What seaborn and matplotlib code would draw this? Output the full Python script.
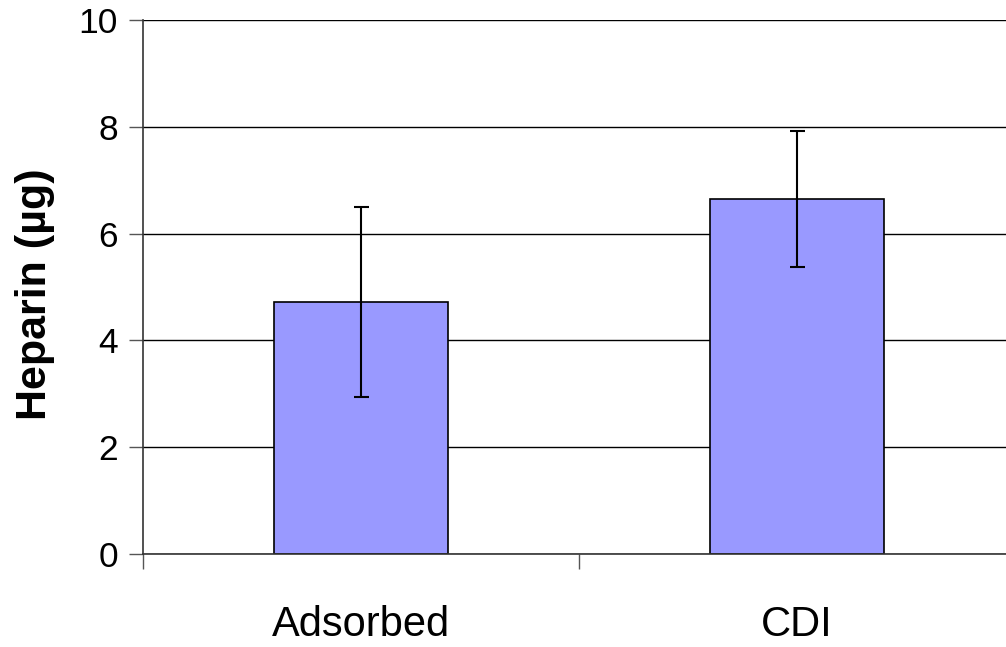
import matplotlib
matplotlib.use("Agg")
import matplotlib.pyplot as plt
import seaborn as sns
import pandas as pd

categories = ["Adsorbed", "CDI"]
heparin = [4.72, 6.65]
heparin_err = [1.78, 1.28]
y_ticks = [0, 2, 4, 6, 8, 10]

df = pd.DataFrame({"method": categories, "heparin": heparin})

sns.set_style("white")
plt.rcParams["font.family"] = ["Liberation Sans", "DejaVu Sans"]
plt.rcParams["text.color"] = "black"
plt.rcParams["xtick.color"] = "black"
plt.rcParams["ytick.color"] = "black"

fig = plt.figure(figsize=(10.06, 6.47), dpi=100)
# plot area runs past the right edge like in the original
ax = fig.add_axes([143 / 1006, 1 - 554 / 647, (1015 - 143) / 1006, (554 - 20) / 647])

sns.barplot(data=df, x="method", y="heparin", color="#9999FF", width=0.4,
            edgecolor="black", linewidth=1.2, errorbar=None, saturation=1,
            ax=ax, zorder=2)
ax.errorbar(range(len(categories)), heparin, yerr=heparin_err, fmt="none",
            ecolor="black", elinewidth=1.5, capsize=5.4, capthick=1.5, zorder=3)

ax.set_xlim(-0.5, 1.5)
ax.set_ylim(0, 10)
ax.set_yticks(y_ticks)
ax.set_yticklabels([str(t) for t in y_ticks], fontsize=25.5)
ax.yaxis.grid(True, color="black", linewidth=1)
ax.set_axisbelow(True)

# category boundaries as major ticks, labels centred as minor ticks
ax.set_xticks([-0.5, 0.5, 1.5])
ax.set_xticklabels(["", "", ""])
ax.set_xticks([0, 1], minor=True)
ax.set_xticklabels(categories, minor=True, fontsize=30)
ax.tick_params(axis="x", which="major", bottom=True, length=11, width=1,
               color="#555555", direction="out")
ax.tick_params(axis="x", which="minor", bottom=True, length=0, pad=37)
ax.tick_params(axis="y", left=True, length=10, width=1, color="#555555",
               labelcolor="black", direction="out", pad=8)

for side in ["top", "right"]:
    ax.spines[side].set_visible(False)
for side in ["left", "bottom"]:
    ax.spines[side].set_color("#333333")
    ax.spines[side].set_linewidth(1.2)

ax.set_xlabel("")
ax.set_ylabel("Heparin (µg)", fontsize=31, fontweight="bold", color="black")
ax.yaxis.set_label_coords(-0.101, 0.487)

fig.savefig("out.png", dpi=100)
